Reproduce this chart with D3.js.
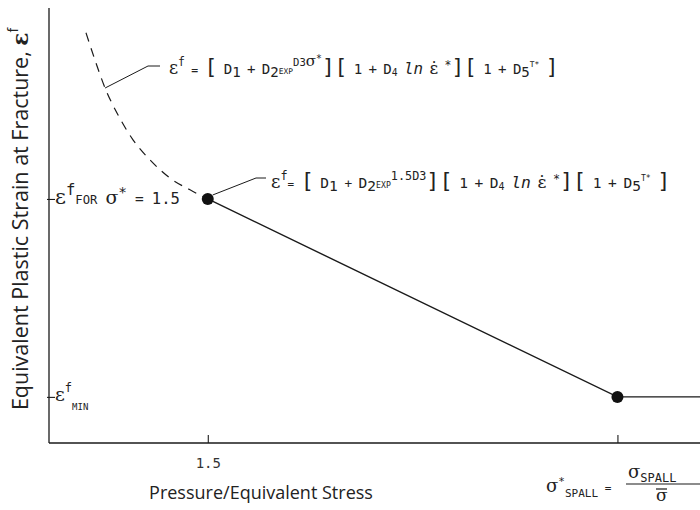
<!DOCTYPE html>
<html>
<head>
<meta charset="utf-8">
<script src="https://cdn.jsdelivr.net/npm/d3@7"></script>
<style>
  html, body { margin: 0; padding: 0; background: #fff; }
  svg { display: block; }
</style>
</head>
<body>
<div id="chart"></div>
<script>
// Pressure/equivalent-stress ratio (sigma*) and fracture strain along the failure curve
const dashedX = [0.733, 0.79, 0.853, 0.935, 1.029, 1.136, 1.262, 1.388, 1.5];
const dashedY = [0.943, 0.88, 0.816, 0.754, 0.697, 0.651, 0.609, 0.582, 0.561];
const sigmaStar = 1.5;      // switch point of the criterion
const sigmaSpall = 4.08;    // spall pressure ratio
const epsAt15 = 0.561;      // fracture strain at sigma* = 1.5
const epsMin = 0.106;       // minimum fracture strain
const xEnd = 4.6;
const solidX = [sigmaStar, sigmaSpall, xEnd];
const solidY = [epsAt15, epsMin, epsMin];
const xTickValues = [sigmaStar, sigmaSpall];
const xTickLabels = ["1.5", ""];
const yTickValues = [epsAt15, epsMin];

const W = 700, H = 510;
const svg = d3.select("#chart").append("svg").attr("width", W).attr("height", H);

const x = d3.scaleLinear().domain([0.5, xEnd]).range([49, 700]);
const y = d3.scaleLinear().domain([0, 1]).range([443, 8]);

const ink = "#1a1a1a";
const mono = "'DejaVu Sans Mono', 'Liberation Mono', monospace";
const sans = "'Open Sans', 'Noto Sans', sans-serif";

// axes
const xAxis = d3.axisBottom(x).tickValues(xTickValues).tickSize(-8)
  .tickFormat((d, i) => xTickLabels[i]);
const gx = svg.append("g").attr("transform", `translate(0,${y(0)})`).call(xAxis);
gx.select(".domain").attr("d", `M${x(0.5)},0H700`).attr("stroke", ink).attr("stroke-width", 1.3);
gx.selectAll(".tick line").attr("stroke", ink).attr("stroke-width", 1.1);
gx.selectAll(".tick text").attr("font-family", mono).attr("font-size", 14)
  .attr("fill", "#333").attr("dy", "1.55em");

const yAxis = d3.axisLeft(y).tickValues(yTickValues).tickSize(-6).tickFormat("");
const gy = svg.append("g").attr("transform", `translate(${x(0.5)},0)`).call(yAxis);
gy.select(".domain").attr("d", `M0,${y(0)}V${y(1)}`).attr("stroke", ink).attr("stroke-width", 1.3);
gy.selectAll(".tick line").attr("stroke", ink).attr("stroke-width", 1.1)
  .attr("x1", -2).attr("x2", 6);

// formula text helper: parts are [text, baselineShift, fontSize, italic];
// when a width is given the whole expression is scaled uniformly to fit it
function formula(sel, px, py, parts, opts = {}) {
  const t = sel.append("text").attr("x", px).attr("y", py)
    .attr("font-family", opts.family || mono).attr("fill", opts.fill || "#222")
    .style("white-space", "pre");
  let prev = 0;
  parts.forEach(([s, shift, size, ital]) => {
    const ts = t.append("tspan").text(s).attr("font-size", size).attr("dy", -(shift - prev));
    if (ital) ts.attr("font-style", "italic");
    if (/[εσ]/.test(s)) ts.attr("font-family", "'DejaVu Serif', serif");
    prev = shift;
  });
  if (opts.width) {
    const w = t.node().getBBox().width;
    const k = opts.width / w;
    t.attr("transform", `translate(${px},${py}) scale(${k}) translate(${-px},${-py})`);
  }
  return t;
}

const sp = [" ", 0, 12];

// y tick labels
formula(svg, 55, y(epsAt15) + 5, [
  ["ε", 0, 19], ["f", 8, 14], ["FOR", 0, 11], sp, ["σ", 0, 17], ["*", 6, 13], sp, ["=", 0, 13],
  sp, ["1.5", 0, 14]
], { width: 125 });
formula(svg, 55, y(epsMin) + 4, [
  ["ε", 0, 19], ["f", 9, 12], ["MIN", -9, 9]
]);

// curve: dashed branch up to sigma* = 1.5, solid branch beyond
const line = d3.line().x(d => x(d[0])).y(d => y(d[1]));
const lineCurve = d3.line().x(d => x(d[0])).y(d => y(d[1])).curve(d3.curveMonotoneX);
svg.append("path").datum(dashedX.map((v, i) => [v, dashedY[i]]))
  .attr("d", lineCurve).attr("fill", "none").attr("stroke", ink)
  .attr("stroke-width", 1.2).attr("stroke-dasharray", "9,7");
svg.append("path").datum(solidX.map((v, i) => [v, solidY[i]]))
  .attr("d", line).attr("fill", "none").attr("stroke", ink).attr("stroke-width", 1.4);

svg.selectAll("circle.pt").data([[sigmaStar, epsAt15], [sigmaSpall, epsMin]])
  .join("circle").attr("class", "pt")
  .attr("cx", d => x(d[0])).attr("cy", d => y(d[1])).attr("r", 6).attr("fill", "#111");

// leader lines to the two expressions
const mid = 2;
svg.append("path")
  .attr("d", `M${x(dashedX[mid])},${y(dashedY[mid])}L148,66H160`)
  .attr("fill", "none").attr("stroke", ink).attr("stroke-width", 1);
svg.append("path")
  .attr("d", `M${x(sigmaStar) + 5},${y(epsAt15) - 4}L256,178H266`)
  .attr("fill", "none").attr("stroke", ink).attr("stroke-width", 1);

// bracketed factors shared by both expressions
const tail = [
  ["]", 0, 24], ["[", 0, 24], sp, ["1", 0, 16], sp, ["+", 0, 16], sp, ["D", 0, 16], ["4", -2, 11],
  sp, ["ln", 0, 18, true], sp, ["ε̇", 0, 19], sp, ["*", 6, 13],
  ["]", 0, 24], ["[", 0, 24], sp, ["1", 0, 16], sp, ["+", 0, 16], sp, ["D", 0, 16],
  ["5", -3, 16], ["T*", 8, 9], sp, ["]", 0, 24]
];

// general fracture criterion
formula(svg, 169, 74, [
  ["ε", 0, 20], ["f", 9, 13], sp, ["=", 0, 13], sp, ["[", 0, 24], sp, ["D", 0, 16], ["1", -3, 16],
  sp, ["+", 0, 16], sp, ["D", 0, 16], ["2", -3, 16], ["EXP", 0, 9], ["D3", 9, 12], ["σ", 9, 17],
  ["*", 14, 11]
].concat(tail), { width: 390 });

// criterion evaluated at sigma* = 1.5
formula(svg, 271, 188, [
  ["ε", 0, 20], ["f", 9, 13], ["=", 0, 12], sp, ["[", 0, 24], sp, ["D", 0, 16], ["1", -3, 16],
  sp, ["+", 0, 14], sp, ["D", 0, 16], ["2", -3, 16], ["EXP", 0, 9], ["1.5D3", 9, 13]
].concat(tail), { width: 400 });

// axis titles
svg.append("text").attr("x", 261).attr("y", 499).attr("text-anchor", "middle")
  .attr("font-family", sans).attr("font-size", 18).attr("fill", "#222")
  .text("Pressure/Equivalent Stress");

const yt = svg.append("text")
  .attr("transform", "translate(28,219) rotate(-90)").attr("text-anchor", "middle")
  .attr("font-family", sans).attr("font-size", 21.5).attr("fill", "#222");
yt.append("tspan").text("Equivalent Plastic Strain at Fracture, ");
yt.append("tspan").text("ε").attr("font-family", "'DejaVu Serif', serif").attr("font-weight", "bold");
yt.append("tspan").text("f").attr("font-size", 14).attr("dy", -10);

// spall pressure definition
formula(svg, 546, 492, [
  ["σ", 0, 18], ["*", 7, 11], ["SPALL", -5, 11], [" = ", 0, 11]
]);
formula(svg, 628, 478, [["σ", 0, 18], ["SPALL", -4, 12]]);
svg.append("line").attr("x1", 626).attr("x2", 700).attr("y1", 484).attr("y2", 484)
  .attr("stroke", ink).attr("stroke-width", 1.2);
formula(svg, 656, 501, [["σ", 0, 17]]);
svg.append("line").attr("x1", 656).attr("x2", 667).attr("y1", 489).attr("y2", 489)
  .attr("stroke", ink).attr("stroke-width", 1.2);
</script>
</body>
</html>
